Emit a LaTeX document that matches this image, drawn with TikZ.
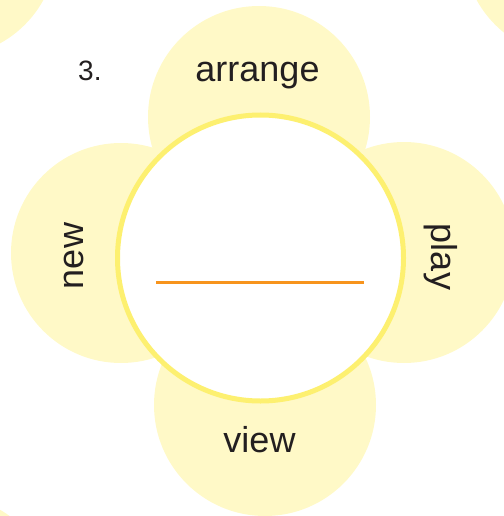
\documentclass[tikz,border=0pt]{standalone}
\usepackage{fontspec}
\setmainfont{Liberation Sans}
\usepackage{xcolor}
\definecolor{PetalYellow}{RGB}{255, 249, 199}
\definecolor{RingYellow}{RGB}{253, 240, 112}
\definecolor{BlankOrange}{RGB}{247, 148, 29}
\definecolor{WordGray}{RGB}{35, 31, 32}

\begin{document}
\begin{tikzpicture}[x=1pt, y=-1pt,
        petal/.style={fill=PetalYellow},
        word/.style={text=WordGray, font=\fontsize{36}{40}\selectfont, inner sep=0pt}]
        \useasboundingbox (0,0) rectangle (503,516);

        % Neighbouring flowers
        \fill[petal] (-53,-53) circle[radius=110pt];
        \fill[petal] (573,-53) circle[radius=110pt];
        \fill[petal] (-55,605) circle[radius=110pt];

        % Petals
        \fill[petal] (259,117) circle[radius=111pt];
        \fill[petal] (121,253) circle[radius=110pt];
        \fill[petal] (404,252.5) circle[radius=110.5pt];
        \fill[petal] (265,405) circle[radius=111pt];

        % Centre
        \node[circle, draw=RingYellow, fill=white, line width=5pt, minimum size=286pt, inner sep=0pt] (centre) at (260.5,258) {};

        % Blank line
        \coordinate (blank-l) at (156,282);
        \coordinate (blank-r) at (364,282);
        \draw[BlankOrange, line width=3pt] (blank-l) -- (blank-r);

        % Words
        \node[word, anchor=base] (arrange) at (257.5,82) {arrange};
        \node[word, anchor=base] (view) at (259.5,452) {view};
        \node[word, anchor=base, rotate=90] (new) at (83,256) {new};
        \node[word, anchor=base, rotate=-90] (play) at (431,257) {play};
        \node[word, anchor=base west, font=\fontsize{28}{30}\selectfont] (num) at (78,81) {3.};
    \end{tikzpicture}
\end{document}
